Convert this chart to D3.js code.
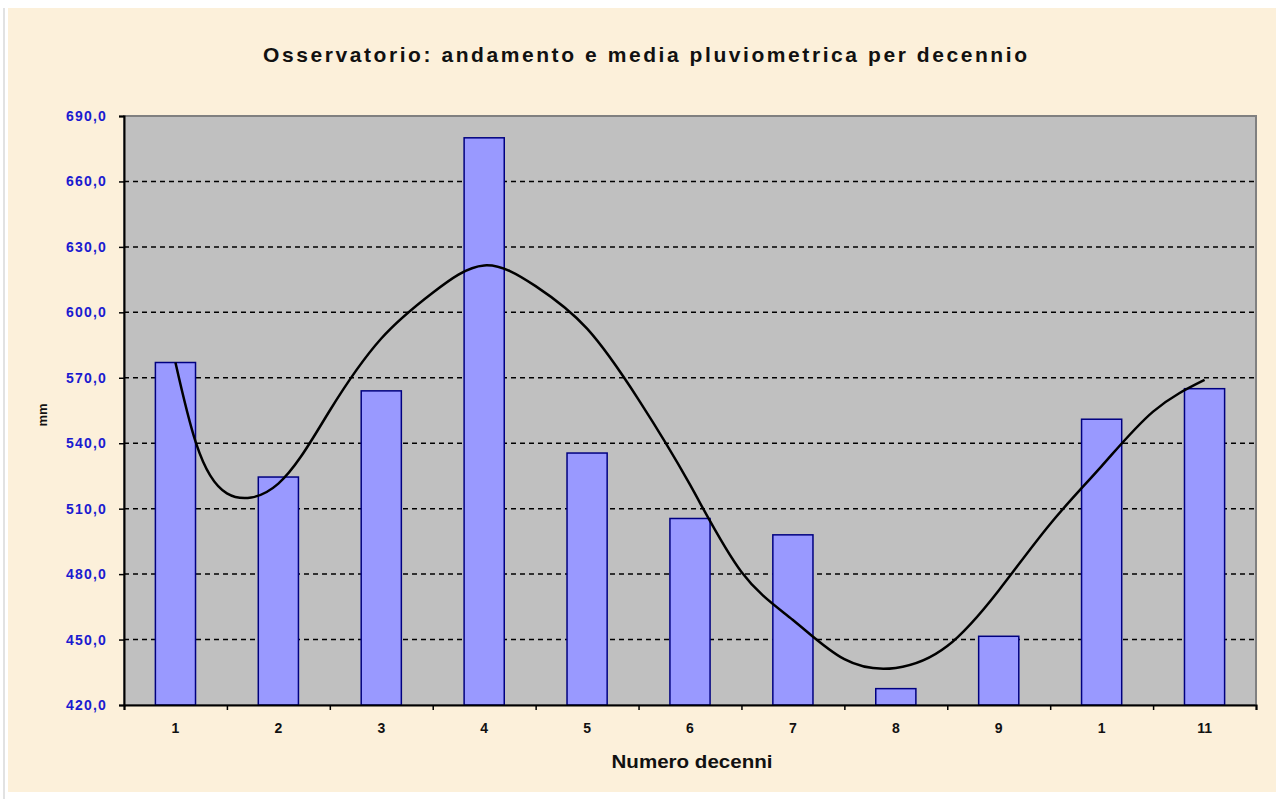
<!DOCTYPE html>
<html>
	<head>
		<title>Osservatorio</title>
		<meta charset="UTF-8">
		<style type="text/css">
			body { margin: 0; background: #ffffff; }
			text { font-family: "Liberation Sans", Arial, sans-serif; }
		</style>
		<script src="https://d3js.org/d3.v7.min.js"></script>
	</head>

	<body>
		<script type="text/javascript">

			// categorie (numero decenni)
			var decenni = ["1", "2", "3", "4", "5", "6", "7", "8", "9", "1", "11"];
			// pioggia media per decennio, mm
			var pioggia = [577, 524.5, 564, 680, 535.5, 505.5, 498, 427.5, 451.5, 551, 565];

			// linea di tendenza (x in unita' di decennio)
			var trendX = [1, 1.2, 1.5, 2, 2.5, 3, 3.5, 4, 4.5, 5, 5.5, 6, 6.5, 7, 7.5, 8, 8.5, 9, 9.5, 10, 10.5, 11];
			var trendY = [577, 540, 517, 521.5, 555, 588, 609, 621.5, 612, 592.5, 560, 521, 481, 459, 441, 437, 447, 472.5, 503, 529.5, 554.5, 569];

			var yTicks = [420, 450, 480, 510, 540, 570, 600, 630, 660, 690];

			var W = 1281, H = 799;
			var plot = {left: 124, right: 1256, top: 116, bottom: 705};

			var svg = d3.select("body")
				.append("svg")
					.attr("width", W)
					.attr("height", H);

			// sfondo
			svg.append("rect")
				.attr("x", 8).attr("y", 8)
				.attr("width", 1268).attr("height", 784)
				.attr("fill", "#fcf0da");
			svg.append("line")
				.attr("x1", 4).attr("x2", 4).attr("y1", 8).attr("y2", 799)
				.attr("stroke", "#d8d8d8").attr("stroke-width", 1.5);

			var x = d3.scaleBand()
				.domain(d3.range(decenni.length))
				.range([plot.left, plot.right])
				.paddingInner(0.61)
				.paddingOuter(0.305);

			var xLin = d3.scaleLinear()
				.domain([0.5, decenni.length + 0.5])
				.range([plot.left, plot.right]);

			var y = d3.scaleLinear()
				.domain([420, 690])
				.range([plot.bottom, plot.top]);

			// area del grafico
			svg.append("rect")
				.attr("x", plot.left).attr("y", plot.top)
				.attr("width", plot.right - plot.left)
				.attr("height", plot.bottom - plot.top)
				.attr("fill", "#c0c0c0")
				.attr("stroke", "#808080")
				.attr("stroke-width", 2);

			// griglia tratteggiata
			svg.append("g")
				.selectAll("line")
				.data(yTicks.slice(1, -1))
				.enter().append("line")
					.attr("x1", plot.left).attr("x2", plot.right)
					.attr("y1", function(d) { return y(d); })
					.attr("y2", function(d) { return y(d); })
					.attr("stroke", "#000")
					.attr("stroke-width", 1.5)
					.attr("stroke-dasharray", "5,4");

			// barre
			svg.append("g")
				.selectAll("rect")
				.data(pioggia)
				.enter().append("rect")
					.attr("x", function(d, i) { return x(i); })
					.attr("y", function(d) { return y(d); })
					.attr("width", x.bandwidth())
					.attr("height", function(d) { return y(420) - y(d); })
					.attr("fill", "#9999ff")
					.attr("stroke", "#000080")
					.attr("stroke-width", 1.5);

			// linea di tendenza
			var trendLine = d3.line()
				.x(function(d) { return xLin(d[0]); })
				.y(function(d) { return y(d[1]); })
				.curve(d3.curveNatural);

			svg.append("path")
				.attr("d", trendLine(d3.zip(trendX, trendY)))
				.attr("fill", "none")
				.attr("stroke", "#000")
				.attr("stroke-width", 2.5);

			// asse y
			var yAxis = d3.axisLeft(y)
				.tickValues(yTicks)
				.tickSize(5)
				.tickPadding(12)
				.tickFormat(function(d) { return d3.format(".1f")(d).replace(".", ","); });

			var gy = svg.append("g")
				.attr("transform", "translate(" + plot.left + ",0)")
				.call(yAxis);
			gy.select(".domain").attr("stroke", "#000").attr("stroke-width", 2);
			gy.selectAll(".tick line").attr("stroke", "#000").attr("stroke-width", 1.5);
			gy.selectAll(".tick text")
				.attr("fill", "#1a1ad0")
				.attr("font-size", 14)
				.attr("font-weight", "bold")
				.attr("letter-spacing", "1.2px");

			// asse x: tacche ai bordi delle categorie
			var gxTicks = svg.append("g")
				.attr("transform", "translate(0," + plot.bottom + ")")
				.call(d3.axisBottom(xLin)
					.tickValues(d3.range(0.5, decenni.length + 1, 1))
					.tickSize(5)
					.tickFormat(""));
			gxTicks.select(".domain").attr("stroke", "#000").attr("stroke-width", 2);
			gxTicks.selectAll(".tick line").attr("stroke", "#000").attr("stroke-width", 1.5);

			// asse x: etichette
			var gx = svg.append("g")
				.attr("transform", "translate(0," + plot.bottom + ")")
				.call(d3.axisBottom(x)
					.tickSize(0)
					.tickPadding(18)
					.tickFormat(function(i) { return decenni[i]; }));
			gx.select(".domain").remove();
			gx.selectAll(".tick text")
				.attr("fill", "#111")
				.attr("font-size", 14)
				.attr("font-weight", "bold");

			// titoli
			svg.append("text")
				.attr("x", 645).attr("y", 62)
				.attr("text-anchor", "middle")
				.attr("font-size", 21)
				.attr("font-weight", "bold")
				.attr("fill", "#111")
				.attr("textLength", 764)
				.attr("lengthAdjust", "spacing")
				.text("Osservatorio: andamento e media pluviometrica per decennio");

			svg.append("text")
				.attr("x", 692).attr("y", 768)
				.attr("text-anchor", "middle")
				.attr("font-size", 19)
				.attr("font-weight", "bold")
				.attr("fill", "#111")
				.attr("textLength", 161)
				.attr("lengthAdjust", "spacingAndGlyphs")
				.text("Numero decenni");

			svg.append("text")
				.attr("transform", "translate(47,415) rotate(-90)")
				.attr("text-anchor", "middle")
				.attr("font-size", 13)
				.attr("font-weight", "bold")
				.attr("fill", "#111")
				.text("mm");

		</script>
	</body>
</html>
